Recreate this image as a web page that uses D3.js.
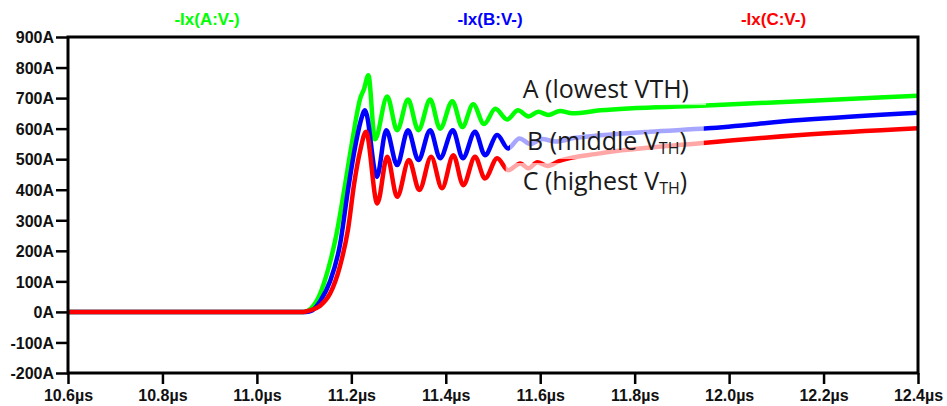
<!DOCTYPE html>
<html>
<head>
<meta charset="utf-8">
<script src="https://cdn.jsdelivr.net/npm/d3@7"></script>
<style>
  body { margin: 0; background: #fff; }
  svg { display: block; }
  .axis text { font-family: "Liberation Sans", Arial, sans-serif; font-weight: bold; font-size: 16px; fill: #111; }
  .legend { font-family: "Liberation Sans", Arial, sans-serif; font-weight: bold; font-size: 17px; }
  .note { font-family: "Open Sans", sans-serif; font-size: 25px; fill: #1a1a1a; }
</style>
</head>
<body>
<div id="chart"></div>
<script>
const seriesNames = ["-Ix(A:V-)", "-Ix(B:V-)", "-Ix(C:V-)"];
const seriesColors = ["#00ff00", "#0000ff", "#ff0000"];

// (time in µs, current in A)
const timeA = [10.6, 11.100, 11.117, 11.134, 11.151, 11.168, 11.185, 11.202, 11.219, 11.227, 11.236,
  11.250, 11.276, 11.297, 11.320, 11.342, 11.367, 11.388, 11.414, 11.435, 11.458, 11.481, 11.505,
  11.530, 11.553, 11.575, 11.596, 11.617, 11.642, 11.668, 11.727, 11.939, 12.151, 12.4];
const currA = [0, 0, 15, 60, 140, 250, 400, 560, 700, 730, 775,
  565, 705, 595, 695, 595, 695, 600, 690, 605, 680, 615, 665,
  630, 660, 640, 655, 645, 658, 650, 660, 675, 690, 708];

const timeB = [10.6, 11.104, 11.117, 11.134, 11.155, 11.176, 11.193, 11.208, 11.219, 11.229,
  11.254, 11.274, 11.297, 11.320, 11.342, 11.367, 11.388, 11.415, 11.436, 11.462, 11.483, 11.509,
  11.532, 11.556, 11.579, 11.604, 11.632, 11.674, 11.727, 11.833, 11.954, 12.151, 12.4];
const currB = [0, 0, 5, 35, 100, 220, 400, 540, 620, 660,
  442, 595, 481, 595, 497, 595, 503, 595, 503, 590, 513, 579,
  535, 568, 550, 566, 558, 570, 578, 590, 601, 628, 652];

const timeC = [10.6, 11.098, 11.113, 11.134, 11.155, 11.176, 11.193, 11.206, 11.219, 11.231,
  11.255, 11.276, 11.297, 11.322, 11.344, 11.369, 11.392, 11.416, 11.437, 11.462, 11.483, 11.509,
  11.532, 11.558, 11.575, 11.594, 11.615, 11.642, 11.727, 11.939, 12.151, 12.4];
const currC = [0, 0, 5, 20, 60, 150, 270, 420, 530, 590,
  355, 508, 377, 497, 399, 508, 405, 513, 415, 508, 437, 503,
  464, 486, 470, 490, 478, 495, 519, 552, 579, 601];

const xTicks = [10.6, 10.8, 11.0, 11.2, 11.4, 11.6, 11.8, 12.0, 12.2, 12.4];
const yTicks = [-200, -100, 0, 100, 200, 300, 400, 500, 600, 700, 800, 900];

// annotations: label, subscript, anchor time, anchor current
const noteText = ["A (lowest VTH)", "B (middle V", "C (highest V"];
const noteSub = ["", "TH", "TH"];
const noteTime = [11.563, 11.572, 11.563];
const noteCurr = [700, 530, 399];

const width = 947;
const height = 406;
const margin = { top: 37, right: 29, bottom: 33, left: 68 };
const innerWidth = width - margin.left - margin.right;
const innerHeight = height - margin.top - margin.bottom;

const svg = d3.select("#chart")
  .append("svg")
  .attr("width", width)
  .attr("height", height);

const x = d3.scaleLinear().domain([10.6, 12.4]).range([0, innerWidth]);
const y = d3.scaleLinear().domain([-200, 900]).range([innerHeight, 0]);

const plot = svg.append("g")
  .attr("transform", `translate(${margin.left}, ${margin.top})`);

plot.append("clipPath")
  .attr("id", "clip")
  .append("rect")
  .attr("width", innerWidth)
  .attr("height", innerHeight);

// axes
const yAxis = d3.axisLeft(y)
  .tickValues(yTicks)
  .tickSize(12)
  .tickPadding(2)
  .tickFormat(d => d + "A");

const xAxis = d3.axisBottom(x)
  .tickValues(xTicks)
  .tickSize(11)
  .tickFormat(d => d.toFixed(1) + "µs");

const gy = plot.append("g").attr("class", "axis").call(yAxis);
gy.select(".domain").remove();
gy.selectAll("text").attr("dy", "0.36em");

const gx = plot.append("g")
  .attr("class", "axis")
  .attr("transform", `translate(0, ${innerHeight})`)
  .call(xAxis);
gx.select(".domain").remove();
gx.selectAll("text").attr("y", 28).attr("dy", 0);

plot.selectAll(".axis .tick line")
  .attr("stroke", "#000")
  .attr("stroke-width", 2.5);

// curves
const series = [
  { t: timeA, v: currA },
  { t: timeB, v: currB },
  { t: timeC, v: currC }
];

const line = d3.line()
  .x(d => x(d[0]))
  .y(d => y(d[1]))
  .curve(d3.curveMonotoneX);

plot.append("g")
  .attr("clip-path", "url(#clip)")
  .selectAll("path")
  .data(series)
  .enter()
  .append("path")
  .attr("d", s => line(s.t.map((t, i) => [t, s.v[i]])))
  .attr("fill", "none")
  .attr("stroke", (s, i) => seriesColors[i])
  .attr("stroke-width", 4.5)
  .attr("stroke-linejoin", "round");

// frame
plot.append("rect")
  .attr("width", innerWidth)
  .attr("height", innerHeight)
  .attr("fill", "none")
  .attr("stroke", "#000")
  .attr("stroke-width", 3);

// legend
const legendX = [0.1635, 0.4965, 0.83];
svg.selectAll(".legend")
  .data(seriesNames)
  .enter()
  .append("text")
  .attr("class", "legend")
  .attr("x", (d, i) => margin.left + legendX[i] * innerWidth)
  .attr("y", 25)
  .attr("text-anchor", "middle")
  .attr("fill", (d, i) => seriesColors[i])
  .text(d => d);

// annotations with translucent white backing
const notes = plot.append("g");
noteText.forEach((txt, i) => {
  const g = notes.append("g");
  const bg = g.append("rect").attr("fill", "#fff").attr("fill-opacity", 0.65);
  const t = g.append("text")
    .attr("class", "note")
    .attr("x", x(noteTime[i]))
    .attr("y", y(noteCurr[i]));
  t.append("tspan").text(txt);
  if (noteSub[i]) {
    t.append("tspan").attr("font-size", "16px").attr("dy", 4).text(noteSub[i]);
    t.append("tspan").attr("dy", -4).text(")");
  }
  const b = t.node().getBBox();
  bg.attr("x", b.x - 17).attr("y", b.y).attr("width", b.width + 34).attr("height", b.height);
});
</script>
</body>
</html>
